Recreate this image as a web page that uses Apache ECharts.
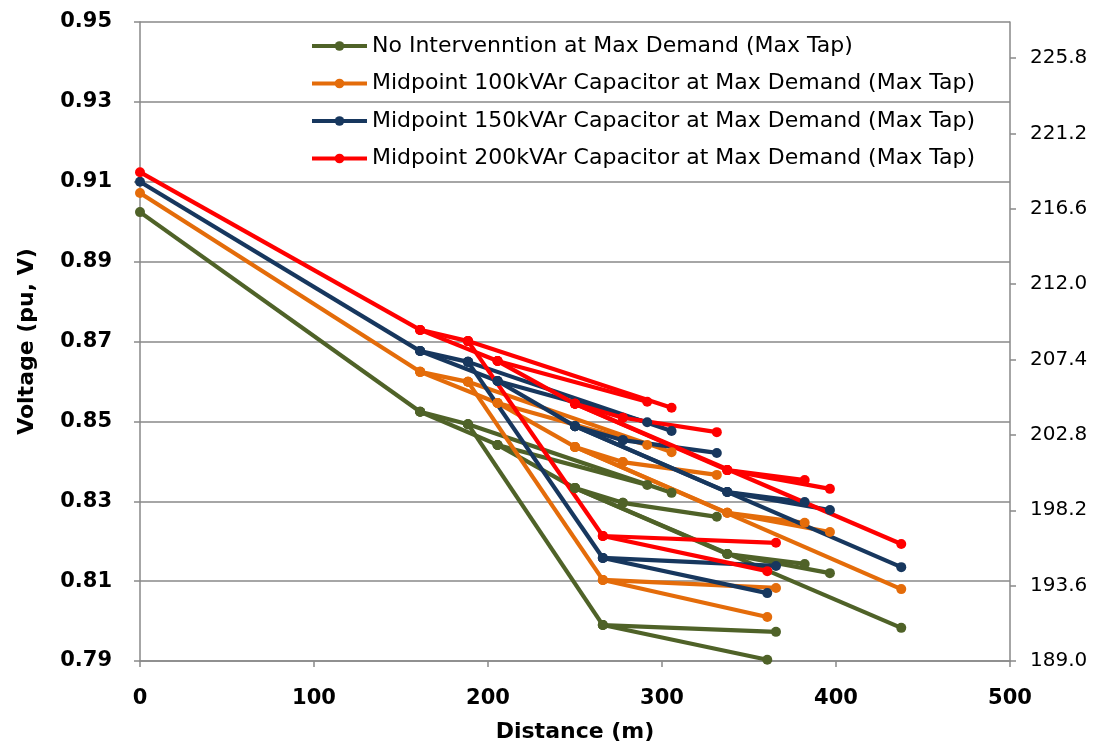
<!DOCTYPE html>
<html><head><meta charset="utf-8">
<script src="https://cdn.jsdelivr.net/npm/echarts@6/dist/echarts.min.js"></script>
<style>html,body{margin:0;padding:0;background:#fff}#c{width:1100px;height:749px}</style>
</head><body><div id="c"></div>
<script>
// Series names (legend)
const seriesNames = [
  'No Intervenntion at Max Demand (Max Tap)',
  'Midpoint 100kVAr Capacitor at Max Demand (Max Tap)',
  'Midpoint 150kVAr Capacitor at Max Demand (Max Tap)',
  'Midpoint 200kVAr Capacitor at Max Demand (Max Tap)'
];
const seriesColors = ['#4F6228', '#E46C0A', '#17375E', '#FF0000'];

// Node distances from source (m)
const distances = [0, 161, 188.5, 205.5, 250, 266, 277.5, 291.5, 305.5, 331.5, 337.5, 360.5, 365.5, 382, 396.5, 437.5];
// Network branches (from node index, to node index)
const branches = [[0,1],[1,2],[1,3],[2,5],[5,11],[5,12],[2,8],[3,7],[3,4],[4,6],[6,9],[4,10],[4,15],[10,13],[10,14]];

// Node voltages (pu) per scenario
const vNoIntervention = [0.9024, 0.8524, 0.8493, 0.8441, 0.8333, 0.7990, 0.8296, 0.8341, 0.8321, 0.8261, 0.8168, 0.7903, 0.7973, 0.8143, 0.8120, 0.7983];
const vCap100 = [0.9072, 0.8624, 0.8599, 0.8546, 0.8436, 0.8103, 0.8398, 0.8441, 0.8423, 0.8366, 0.8271, 0.8010, 0.8083, 0.8246, 0.8223, 0.8080];
const vCap150 = [0.9100, 0.8676, 0.8649, 0.8601, 0.8488, 0.8158, 0.8453, 0.8498, 0.8476, 0.8421, 0.8323, 0.8070, 0.8138, 0.8298, 0.8278, 0.8135];
const vCap200 = [0.9124, 0.8729, 0.8701, 0.8651, 0.8544, 0.8213, 0.8509, 0.8549, 0.8534, 0.8473, 0.8378, 0.8125, 0.8196, 0.8353, 0.8331, 0.8193];

// Axis ticks
const leftTicks = [0.79, 0.81, 0.83, 0.85, 0.87, 0.89, 0.91, 0.93, 0.95];
const rightTicks = [189.0, 193.6, 198.2, 202.8, 207.4, 212.0, 216.6, 221.2, 225.8];
const xTicks = [0, 100, 200, 300, 400, 500];

const voltageSets = [vNoIntervention, vCap100, vCap150, vCap200];
const series = [];
voltageSets.forEach((v, i) => {
  branches.forEach(([a, b]) => {
    series.push({
      type: 'line',
      name: seriesNames[i],
      xAxisIndex: 0, yAxisIndex: 0,
      data: [[distances[a], v[a]], [distances[b], v[b]]],
      symbol: 'circle', symbolSize: 10, showSymbol: true,
      lineStyle: { width: 4.2, color: seriesColors[i] },
      itemStyle: { color: seriesColors[i] },
      emphasis: { disabled: true },
      animation: false
    });
  });
});

const gridGray = '#898989';
const chart = echarts.init(document.getElementById('c'));
chart.setOption({
  backgroundColor: '#fff',
  animation: false,
  grid: { left: 140, right: 90, top: 22, bottom: 88, containLabel: false },
  legend: {
    data: seriesNames,
    orient: 'vertical',
    left: 310, top: 33, padding: 0,
    itemWidth: 55, itemHeight: 12, itemGap: 11.5,
    lineStyle: { width: 4 },
    textStyle: { fontFamily: 'DejaVu Sans', fontSize: 22, color: '#000', lineHeight: 26 }
  },
  xAxis: {
    type: 'value', min: xTicks[0], max: xTicks[xTicks.length - 1], interval: 100,
    name: 'Distance (m)', nameLocation: 'middle', nameGap: 60,
    nameTextStyle: { fontFamily: 'DejaVu Sans', fontWeight: 'bold', fontSize: 22, color: '#000' },
    axisLine: { show: true, onZero: false, lineStyle: { color: gridGray, width: 1.5 } },
    axisTick: { show: true, length: 6, lineStyle: { color: gridGray, width: 1.5 } },
    axisLabel: { fontFamily: 'DejaVu Sans', fontWeight: 'bold', fontSize: 21, color: '#000', margin: 27 },
    splitLine: { show: false }
  },
  yAxis: [
    {
      type: 'value', position: 'left', min: leftTicks[0], max: leftTicks[leftTicks.length - 1], interval: 0.02,
      name: 'Voltage (pu, V)', nameLocation: 'middle', nameGap: 102,
      nameTextStyle: { fontFamily: 'DejaVu Sans', fontWeight: 'bold', fontSize: 22, color: '#000' },
      axisLine: { show: true, lineStyle: { color: gridGray, width: 1.5 } },
      axisTick: { show: true, length: 6, lineStyle: { color: gridGray, width: 1.5 } },
      axisLabel: { fontFamily: 'DejaVu Sans', fontWeight: 'bold', fontSize: 21, color: '#000', margin: 28,
        formatter: v => v.toFixed(2) },
      splitLine: { show: true, lineStyle: { color: gridGray, width: 1.5 } }
    },
    {
      type: 'value', position: 'right', min: 189, max: 228, interval: 4.6,
      axisLine: { show: true, lineStyle: { color: gridGray, width: 1.5 } },
      axisTick: { show: true, length: 6, customValues: rightTicks, lineStyle: { color: gridGray, width: 1.5 } },
      axisLabel: { fontFamily: 'DejaVu Sans', fontSize: 20, color: '#000', margin: 20,
        customValues: rightTicks, formatter: v => v.toFixed(1) },
      splitLine: { show: false }
    }
  ],
  series: series
});
</script></body></html>
